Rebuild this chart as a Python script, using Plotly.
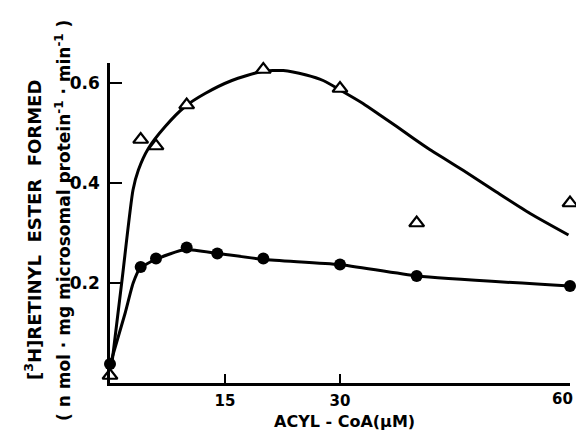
import plotly.graph_objects as go

# Data points
acyl_tri = [0, 4, 6, 10, 20, 30, 40, 60]
ester_tri = [0.015, 0.487, 0.474, 0.556, 0.627, 0.589, 0.32, 0.36]

acyl_dot = [0, 4, 6, 10, 14, 20, 30, 40, 60]
ester_dot = [0.038, 0.232, 0.249, 0.271, 0.259, 0.249, 0.237, 0.214, 0.194]

# Hand-drawn fitted curves
curve_tri_x = [0.2, 1.6, 3.0, 3.7, 5.0, 7.2, 9.8, 12.4, 15.9, 19.8, 22.6, 25.6, 27.8, 30.8,
               33.0, 35.2, 37.4, 39.6, 41.7, 43.9, 46.1, 50.4, 54.8, 59.8]
curve_tri_y = [0.033, 0.21, 0.386, 0.426, 0.469, 0.513, 0.553, 0.579, 0.605, 0.623, 0.625, 0.616, 0.605, 0.579,
               0.559, 0.536, 0.513, 0.489, 0.467, 0.446, 0.425, 0.382, 0.339, 0.296]

curve_dot_x = [0, 1.96, 3.0, 3.9, 5.9, 9.8, 14.1, 20.1, 29.9, 40.1, 60]
curve_dot_y = [0.036, 0.139, 0.199, 0.229, 0.247, 0.267, 0.259, 0.247, 0.237, 0.214, 0.194]

x_ticks = [15, 30, 60]
x_ticklabels = ["15", "30", ""]
last_x_label = "60"
y_ticks = [0.2, 0.4, 0.6]
y_ticklabels = ["0.2", "0.4", "0.6"]

FONT = "DejaVu Sans, Liberation Sans, sans-serif"

fig = go.Figure()
fig.add_trace(go.Scatter(x=curve_tri_x, y=curve_tri_y, mode="lines",
                         line=dict(color="black", width=3, shape="spline", smoothing=0.6),
                         hoverinfo="skip", showlegend=False))
fig.add_trace(go.Scatter(x=curve_dot_x, y=curve_dot_y, mode="lines",
                         line=dict(color="black", width=3, shape="spline", smoothing=0.5),
                         hoverinfo="skip", showlegend=False))
fig.add_trace(go.Scatter(x=acyl_tri, y=ester_tri, mode="markers",
                         marker=dict(symbol="triangle-up", size=13, color="white",
                                     line=dict(color="black", width=2.2)),
                         cliponaxis=False, showlegend=False))
fig.add_trace(go.Scatter(x=acyl_dot, y=ester_dot, mode="markers",
                         marker=dict(symbol="circle", size=12, color="black"),
                         cliponaxis=False, showlegend=False))

# The page body adds an 8px margin all round; the figure is sized so the page fits the window exactly.
fig.update_layout(
    width=568, height=423, autosize=False,
    margin=dict(l=102, r=6, t=55, b=48),
    plot_bgcolor="white", paper_bgcolor="white",
    font=dict(family=FONT, size=16, color="black"),
    xaxis=dict(range=[0, 60], showline=True, linecolor="black", linewidth=2.5,
               ticks="inside", ticklen=9, tickwidth=2, tickcolor="black",
               tickvals=x_ticks, ticktext=x_ticklabels, showgrid=False, zeroline=False,
               tickfont=dict(size=15, family=FONT, weight="bold"), ticklabelstandoff=2),
    yaxis=dict(range=[0, 0.64], showline=True, linecolor="black", linewidth=2.5,
               ticks="inside", ticklen=12, tickwidth=2, tickcolor="black",
               tickvals=y_ticks, ticktext=y_ticklabels, showgrid=False, zeroline=False,
               tickfont=dict(size=17, family=FONT, weight="bold"), ticklabelstandoff=4),
    annotations=[
        dict(text="ACYL - CoA(μM)", x=344, y=421,
             showarrow=False, font=dict(size=16, family=FONT, weight="bold")),
        dict(text="[<sup>3</sup>H]RETINYL  ESTER  FORMED", x=33, y=230,
             showarrow=False, textangle=-90, font=dict(size=18, family=FONT, weight="bold")),
        dict(text="( n mol · mg microsomal protein<sup>-1</sup> · min<sup>-1</sup> )", x=63, y=221,
             showarrow=False, textangle=-90, font=dict(size=17, family=FONT, weight="bold")),
    ],
)

# convert screenshot pixel positions of annotations into paper coords
plot_l, plot_r, plot_t, plot_b = 110, 570, 63, 383
new_ann = []
for a in fig.layout.annotations:
    px, py = a.x, a.y
    a.x = (px - plot_l) / (plot_r - plot_l)
    a.y = (plot_b - py) / (plot_b - plot_t)
    a.xref = "paper"
    a.yref = "paper"
    a.xanchor = "center"
    a.yanchor = "middle"
    new_ann.append(a)
fig.layout.annotations = new_ann

# last x tick label, kept inside the page edge
fig.add_annotation(text=last_x_label, x=x_ticks[-1], xref="x", xanchor="right", xshift=5,
                   y=(plot_b - 399) / (plot_b - plot_t), yref="paper", yanchor="middle",
                   showarrow=False, font=dict(size=15, family=FONT, weight="bold"))

fig.write_html("out.html")
